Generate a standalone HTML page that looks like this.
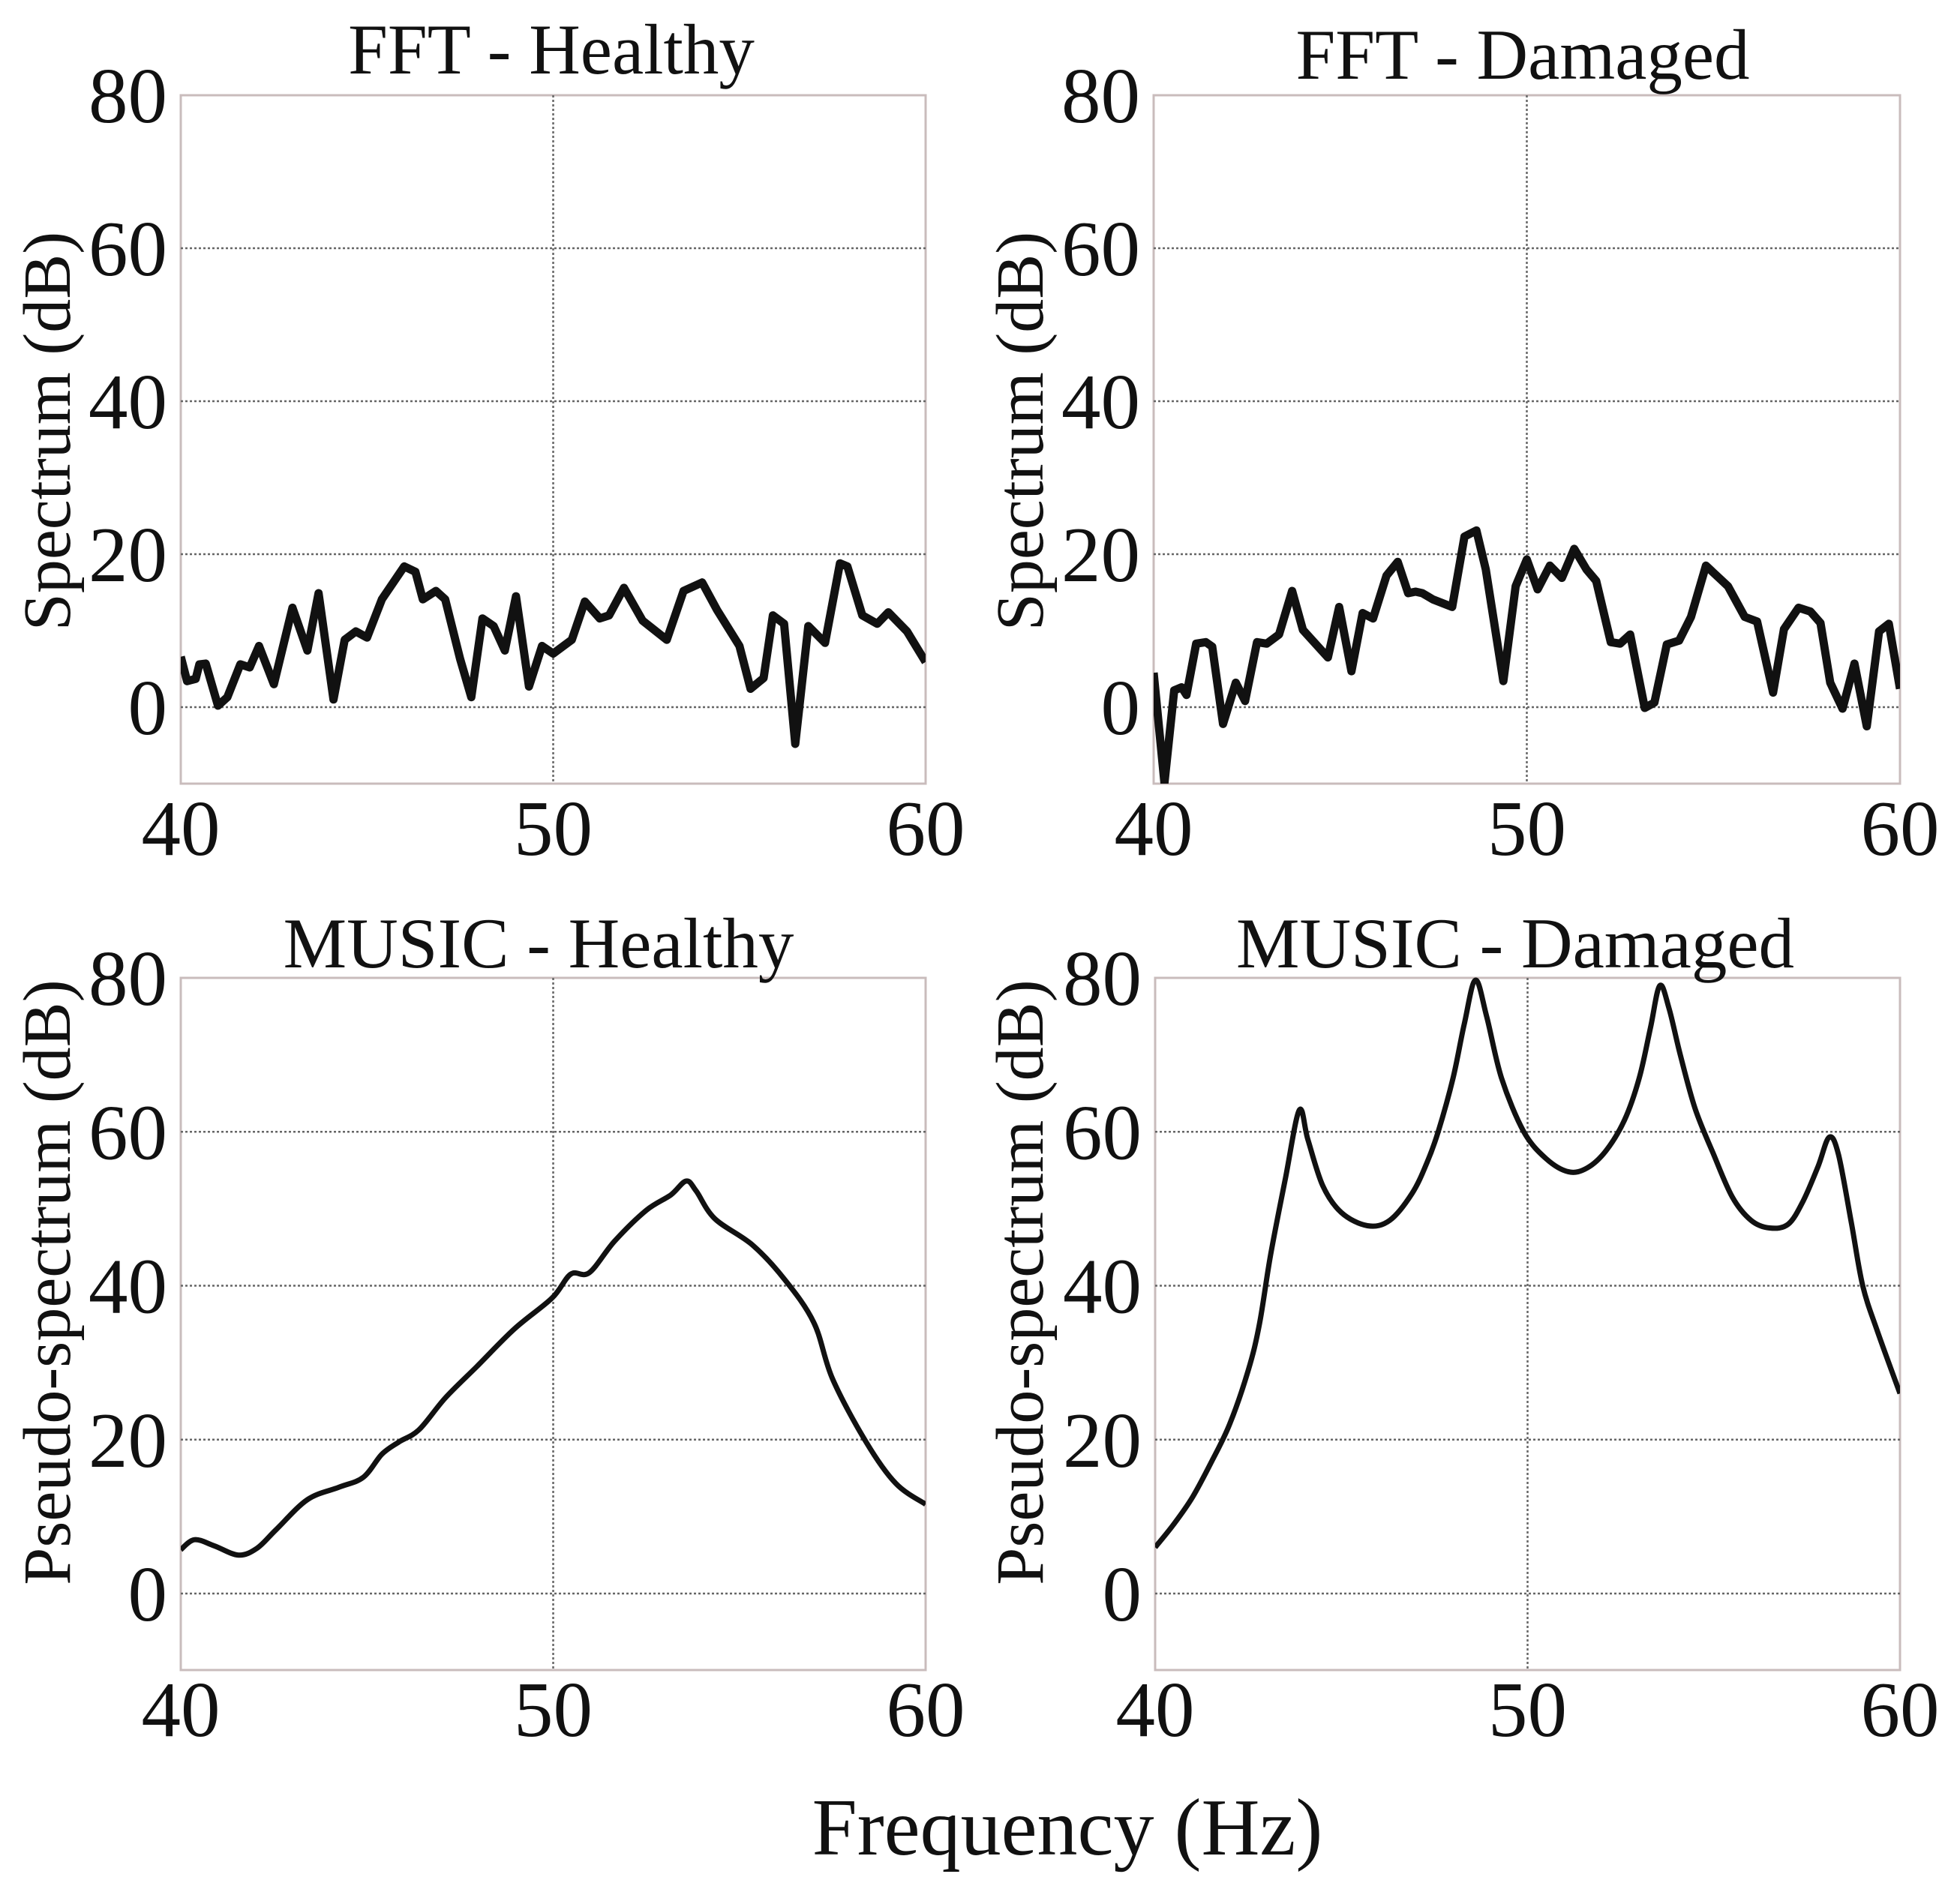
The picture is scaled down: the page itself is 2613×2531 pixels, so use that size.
<!DOCTYPE html>
<html><head><meta charset="utf-8">
<style>
html,body{margin:0;padding:0;background:#fff;}
svg{display:block;font-family:"Liberation Serif",serif;}
</style></head>
<body>
<svg id="fig" xmlns="http://www.w3.org/2000/svg" width="2613" height="2531" viewBox="0 0 2613 2531">
<rect width="2613" height="2531" fill="#fff"/>
<text x="1423" y="2473" font-size="108" text-anchor="middle" fill="#111">Frequency (Hz)</text>
</svg>
<script>
var xTicks = [40, 50, 60];
var yTicks = [0, 20, 40, 60, 80];
var fftHealthyX = [40,40.17,40.4,40.5,40.67,41,41.25,41.6,41.85,42.1,42.5,43,43.4,43.7,44.1,44.4,44.7,45,45.4,46,46.3,46.5,46.85,47.1,47.5,47.8,48.1,48.4,48.7,49,49.35,49.7,50,50.5,50.85,51.25,51.5,51.9,52.4,53.05,53.5,54,54.4,55,55.3,55.65,55.9,56.2,56.5,56.85,57.3,57.7,57.9,58.3,58.7,59,59.5,60];
var fftHealthyY = [6.6,3.4,3.7,5.6,5.7,0.2,1.3,5.6,5.2,8,3,13,7.4,14.9,1,8.8,9.9,9.1,14.1,18.4,17.7,14.1,15.2,14.1,6.3,1.3,11.6,10.6,7.4,14.5,2.7,8,7,8.8,13.8,11.6,12,15.6,11.3,8.8,15.2,16.3,12.7,8,2.4,3.8,12,10.9,-4.8,10.6,8.4,18.8,18.4,12,10.9,12.4,9.9,5.9];
var fftDamagedX = [40,40.29,40.55,40.75,40.88,41.14,41.4,41.57,41.86,42.2,42.45,42.77,43.03,43.36,43.71,44.0,44.67,44.97,45.3,45.6,45.88,46.24,46.54,46.82,47.02,47.2,47.48,48.0,48.33,48.65,48.9,49.37,49.7,50,50.29,50.62,50.94,51.27,51.6,51.86,52.25,52.5,52.77,53.16,53.42,53.75,54.08,54.4,54.8,55.39,55.84,56.17,56.6,56.89,57.28,57.6,57.87,58.13,58.46,58.78,59.11,59.44,59.7,60];
var fftDamagedY = [4.5,-9.9,2.2,2.6,1.6,8.3,8.5,7.9,-2.2,3.2,0.8,8.5,8.3,9.5,15.2,10.1,6.5,13.1,4.7,12.3,11.6,17.2,19,14.9,15.1,14.9,14.1,13.1,22.3,23.1,18,3.4,15.8,19.3,15.4,18.5,16.9,20.7,18,16.5,8.5,8.3,9.5,-0.1,0.6,8.2,8.7,11.8,18.5,15.8,11.8,11.2,1.9,10.2,13,12.5,11,3.2,-0.2,5.7,-2.5,9.9,10.9,2.4];
var musicHealthyX = [40,40.37,40.9,41.55,42.05,42.56,43.4,44.24,44.9,45.4,45.86,46.4,47.1,47.95,48.96,49.97,50.47,50.97,51.65,52.5,53.16,53.57,53.84,54.34,55.35,56.2,57.0,57.5,58.4,59.2,60];
var musicHealthyY = [5.7,7,6.2,5,5.9,8.3,12.2,13.8,15.1,18.1,19.7,21.3,25.4,29.5,34.4,38.4,41.5,41.7,45.8,49.8,51.8,53.6,52.3,48.7,45.3,40.9,35.2,27.9,19.7,14.3,11.6];
var musicDamagedX = [40,40.5,41,41.5,42,42.5,42.8,43.1,43.5,43.87,44.1,44.5,45,45.7,46.3,46.9,47.3,47.6,48,48.3,48.6,48.9,49.3,49.9,50.5,51.1,51.6,52.1,52.6,53,53.3,53.55,53.8,54.1,54.5,55,55.5,56,56.5,57,57.4,57.8,58.1,58.35,58.7,59,59.4,60];
var musicDamagedY = [6,9,12.5,17,22,29,35,44,54,62.8,59,53,49.5,47.8,48.5,52,56,60,67,74,79.7,75,67,60,56.5,54.8,55.3,57.5,61.5,67,73.5,79,76,70,63,57,51.5,48.5,47.5,48,51,55.5,59.3,57,48,40,34,26];

var NS = "http://www.w3.org/2000/svg";
var svg = document.getElementById("fig");
function mk(tag, attrs, parent) {
  var e = document.createElementNS(NS, tag);
  for (var k in attrs) e.setAttribute(k, attrs[k]);
  (parent || svg).appendChild(e);
  return e;
}

var panels = [
  {key:"fft-healthy", title:"FFT - Healthy", tx:735, ty:98, x0:241, x1:1234, y80:127, y0:943, ybot:1045, xl:"fft", xs:fftHealthyX, ys:fftHealthyY, sw:11, smooth:false, ylab:"Spectrum  (dB)", lx:93, ly:575, tickBase:1140},
  {key:"fft-damaged", title:"FFT - Damaged", tx:2030, ty:105, x0:1538, x1:2533, y80:127, y0:943, ybot:1045, xs:fftDamagedX, ys:fftDamagedY, sw:11, smooth:false, ylab:"Spectrum  (dB)", lx:1390, ly:575, tickBase:1140},
  {key:"music-healthy", title:"MUSIC - Healthy", tx:718, ty:1290, x0:241, x1:1234, y80:1304, y0:2125, ybot:2227, xs:musicHealthyX, ys:musicHealthyY, sw:7, smooth:true, ylab:"Pseudo-spectrum  (dB)", lx:93, ly:1710, tickBase:2315},
  {key:"music-damaged", title:"MUSIC - Damaged", tx:2020, ty:1290, x0:1540, x1:2533, y80:1304, y0:2125, ybot:2227, xs:musicDamagedX, ys:musicDamagedY, sw:7, smooth:true, ylab:"Pseudo-spectrum  (dB)", lx:1390, ly:1710, tickBase:2315}
];

panels.forEach(function(p){
  var g = mk("g", {});
  
  
  function sx(v){ return p.x0 + (v - 40) / 20 * (p.x1 - p.x0); }
  function sy(v){ return p.y0 - v / 80 * (p.y0 - p.y80); }

  // frame
  var fr = mk("rect", {x:p.x0, y:p.y80, width:p.x1-p.x0, height:p.ybot-p.y80, fill:"none", stroke:"#c9bcbc", "stroke-width":3}, g);
  
  

  // grid
  yTicks.forEach(function(t){
    if (t === 80) return;
    var l = mk("line", {x1:p.x0, x2:p.x1, y1:sy(t), y2:sy(t), stroke:"#666", "stroke-width":2.5, "stroke-dasharray":"3,3"}, g);
    
    
  });
  var vl = mk("line", {x1:sx(50), x2:sx(50), y1:p.y80, y2:p.ybot, stroke:"#666", "stroke-width":2.5, "stroke-dasharray":"3,3"}, g);
  
  

  // y ticks
  yTicks.forEach(function(t){
    var tl = mk("text", {x:p.x0-18, y:sy(t)+36, "font-size":105, "text-anchor":"end", fill:"#111"}, g);
    tl.textContent = t;
    
    
  });
  // x ticks
  xTicks.forEach(function(t){
    var tl = mk("text", {x:sx(t), y:p.tickBase, "font-size":105, "text-anchor":"middle", fill:"#111"}, g);
    tl.textContent = t;
    
    
  });

  // title
  var ti = mk("text", {x:p.tx, y:p.ty, "font-size":95, "text-anchor":"middle", fill:"#111"}, g);
  ti.textContent = p.title;
  
  

  // y label
  var yl = mk("text", {x:0, y:0, "font-size":90, "text-anchor":"middle", fill:"#111", transform:"translate("+p.lx+","+p.ly+") rotate(-90)", "xml:space":"preserve"}, g);
  yl.textContent = p.ylab;
  
  

  // series
  var pts = p.xs.map(function(x,i){ return [sx(x), sy(p.ys[i])]; });
  var d = "M" + pts[0][0].toFixed(1) + "," + pts[0][1].toFixed(1);
  if (!p.smooth) {
    for (var i=1;i<pts.length;i++) d += " L" + pts[i][0].toFixed(1) + "," + pts[i][1].toFixed(1);
  } else {
    for (var i=0;i<pts.length-1;i++){
      var a = pts[Math.max(i-1,0)], b = pts[i], c = pts[i+1], e = pts[Math.min(i+2,pts.length-1)];
      var c1x = b[0] + (c[0]-a[0])/6, c1y = b[1] + (c[1]-a[1])/6;
      var c2x = c[0] - (e[0]-b[0])/6, c2y = c[1] - (e[1]-b[1])/6;
      d += " C" + c1x.toFixed(1)+","+c1y.toFixed(1)+" "+c2x.toFixed(1)+","+c2y.toFixed(1)+" "+c[0].toFixed(1)+","+c[1].toFixed(1);
    }
  }
  var clip = mk("clipPath", {id:"clip-"+p.key}, g);
  mk("rect", {x:p.x0, y:p.y80-20, width:p.x1-p.x0, height:p.ybot-p.y80+20}, clip);
  var path = mk("path", {d:d, fill:"none", stroke:"#111", "stroke-width":p.sw, "stroke-linejoin":"round", "clip-path":"url(#clip-"+p.key+")"}, g);
  
  
});
</script>
</body></html>
